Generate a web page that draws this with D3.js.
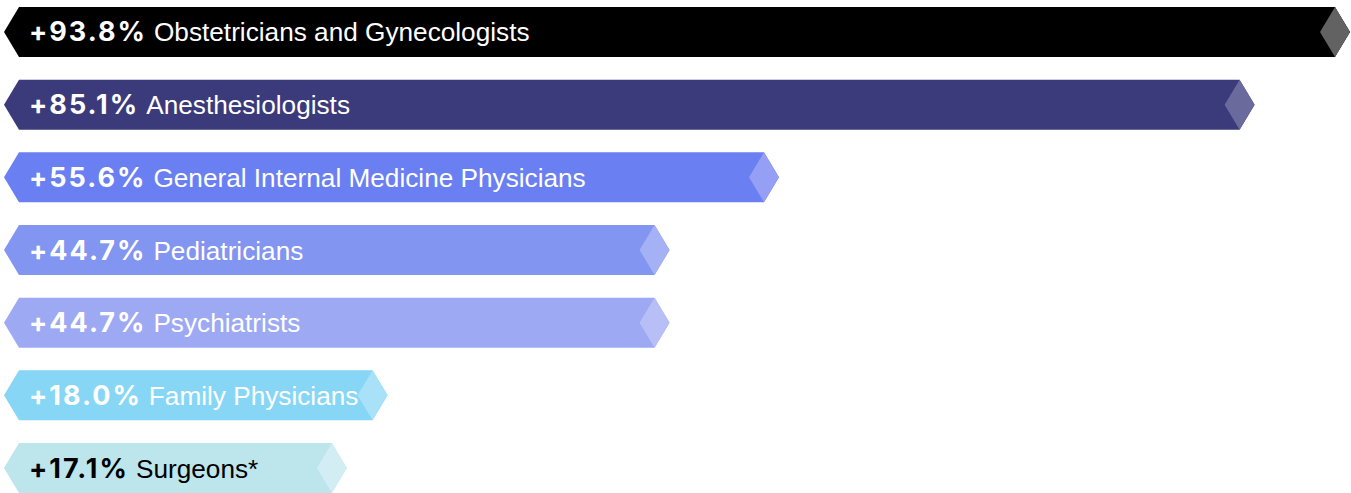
<!DOCTYPE html>
<html>
<head>
<meta charset="utf-8">
<script src="https://cdn.jsdelivr.net/npm/d3@7"></script>
<style>
  html, body { margin: 0; padding: 0; background: #ffffff; }
  svg { display: block; }
</style>
</head>
<body>
<div id="chart"></div>
<script>
// ---- data ----
const categories = [
  "Obstetricians and Gynecologists",
  "Anesthesiologists",
  "General Internal Medicine Physicians",
  "Pediatricians",
  "Psychiatrists",
  "Family Physicians",
  "Surgeons*"
];
const changeLabels = ["+93.8%", "+85.1%", "+55.6%", "+44.7%", "+44.7%", "+18.0%", "+17.1%"];
// bar extents as drawn in the picture (same units as the top bar's 93.8)
const barExtent = [93.8, 87.0, 53.1, 45.3, 45.3, 25.2, 22.3];
const barColors = ["#000000", "#3b3a7b", "#6a7ff2", "#8195f1", "#9ea9f4", "#87d6f5", "#bde5ec"];
const tipColors = ["#626262", "#6b6a9c", "#949ff5", "#a5b1f5", "#b8bff7", "#a9e1f8", "#d2edf3"];
const textColors = ["#ffffff", "#ffffff", "#ffffff", "#ffffff", "#ffffff", "#ffffff", "#000000"];

const W = 1351, H = 493;
const svg = d3.select("#chart").append("svg").attr("width", W).attr("height", H);

const y = d3.scaleBand().domain(categories).range([7, 493]).paddingInner(0.312).paddingOuter(0);
const x = d3.scaleLinear().domain([0, 93.8]).range([19, 1335]);

const notch = 15;  // left arrow depth
const tip = 15;    // right point depth

const rows = categories.map((c, i) => ({
  cat: c, label: changeLabels[i], ext: barExtent[i],
  color: barColors[i], tipColor: tipColors[i], textColor: textColors[i]
}));

const g = svg.selectAll("g.bar").data(rows).join("g").attr("class", "bar");

g.append("path")
  .attr("d", d => {
    const t = y(d.cat), h = y.bandwidth(), m = t + h / 2;
    const x0 = x(0), x1 = x(d.ext);
    return `M${x0},${t} L${x1},${t} L${x1 + tip},${m} L${x1},${t + h} L${x0},${t + h} L${x0 - notch},${m} Z`;
  })
  .attr("fill", d => d.color);

g.append("path")
  .attr("d", d => {
    const t = y(d.cat), h = y.bandwidth(), m = t + h / 2;
    const x1 = x(d.ext);
    return `M${x1},${t} L${x1 + tip},${m} L${x1},${t + h} L${x1 - tip},${m} Z`;
  })
  .attr("fill", d => d.tipColor);

const txt = g.append("text")
  .attr("x", 29)
  .attr("y", d => y(d.cat) + y.bandwidth() / 2 + 9.5)
  .attr("fill", d => d.textColor);

txt.append("tspan")
  .attr("font-family", "Inter, sans-serif")
  .attr("font-weight", 700)
  .attr("font-size", 27)
  .attr("letter-spacing", 2)
  .text(d => d.label);

txt.append("tspan")
  .attr("dx", 7)
  .attr("font-family", "'Liberation Sans', Arial, sans-serif")
  .attr("font-size", 26.2)
  .attr("letter-spacing", 0)
  .text(d => d.cat);
</script>
</body>
</html>
